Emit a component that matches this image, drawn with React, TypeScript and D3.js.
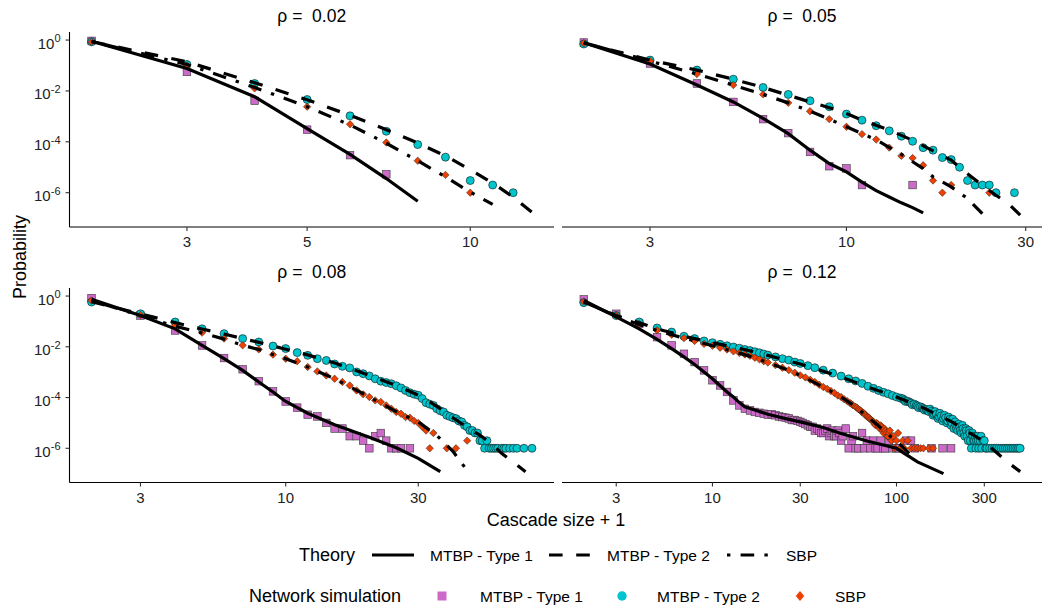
import React, { useEffect, useRef } from "react";
import * as d3 from "d3";

// Cascade size distributions, theory vs network simulation, one facet per rho

type Pt = [number, number];

const rhoValues = ["0.02", "0.05", "0.08", "0.12"];
const yTickExponents = [0, -2, -4, -6];
const xTicks02 = [3, 5, 10];
const xTicks05 = [3, 10, 30];
const xTicks08 = [3, 10, 30];
const xTicks12 = [3, 10, 30, 100, 300];

// rho = 0.02
const t1Line02: Pt[] = [[2, 0.9], [3, 0.076], [4, 0.0059], [5, 3.3e-4], [6, 3.2e-5], [7, 3.6e-6], [8, 4.6e-7]];
const t2Line02: Pt[] = [[2, 0.88], [3, 0.14], [4, 0.021], [5, 0.0045], [6, 0.0011], [7, 3.0e-4], [8, 9e-5], [9, 2.8e-5], [10, 8e-6], [11, 2.4e-6], [12, 6.8e-7], [13, 1.7e-7]];
const sbpLine02: Pt[] = [[2, 0.88], [3, 0.11], [4, 0.0137], [5, 0.0024], [6, 4.6e-4], [7, 8.8e-5], [8, 1.8e-5], [9, 4.2e-6], [10, 1.05e-6], [11, 3.5e-7]];
const t1Pts02: Pt[] = [[2, 0.93], [3, 0.056], [4, 0.0041], [5, 3.0e-4], [6, 3.0e-5], [7, 5.3e-6]];
const t2Pts02: Pt[] = [[2, 0.85], [3, 0.11], [4, 0.0196], [5, 0.0046], [6, 0.00105], [7, 2.6e-4], [8, 7.8e-5], [9, 2.5e-5], [10, 3e-6], [11, 2e-6], [12, 1e-6]];
const sbpPts02: Pt[] = [[2, 0.85], [3, 0.1], [4, 0.0126], [5, 0.0024], [6, 4.9e-4], [7, 9.4e-5], [8, 1.8e-5], [9, 5e-6], [10, 1e-6]];

// rho = 0.05
const t1Line05: Pt[] = [[2, 0.78], [3, 0.114], [4, 0.017], [5, 0.0037], [6, 8.3e-4], [7, 2.1e-4], [8, 4.7e-5], [9, 1.4e-5], [10, 6.6e-6], [11, 2.6e-6], [12, 1.2e-6], [13, 6.8e-7], [14, 4e-7], [15, 2.6e-7], [16, 1.6e-7]];
const t2Line05: Pt[] = [[2, 0.78], [3, 0.163], [4, 0.066], [5, 0.029], [6, 0.0137], [7, 0.0068], [8, 0.0037], [9, 0.0022], [10, 0.0013], [11, 7.1e-4], [13, 2.9e-4], [15, 1.15e-4], [17, 4.4e-5], [19, 1.9e-5], [21, 5.6e-6], [23, 1.95e-6], [25, 7.9e-7], [27, 3.7e-7], [29, 1.3e-7]];
const sbpLine05: Pt[] = [[2, 0.78], [3, 0.15], [4, 0.046], [5, 0.017], [6, 0.0073], [7, 0.0034], [8, 0.0016], [9, 7.8e-4], [10, 3.9e-4], [12, 1.2e-4], [14, 3.2e-5], [16, 8.9e-6], [17, 4.2e-6], [19, 1.7e-6], [21, 5.9e-7], [23, 1.5e-7]];
const t1Pts05: Pt[] = [[2, 0.8], [3, 0.12], [4, 0.0196], [5, 0.0037], [6, 7.8e-4], [7, 2.2e-4], [8, 4e-5], [9, 1.1e-5], [10, 9e-6], [11, 2e-6], [15, 2e-6]];
const t2Pts05: Pt[] = [[2, 0.7], [3, 0.163], [4, 0.066], [5, 0.029], [6, 0.0137], [7, 0.0073], [8, 0.0041], [9, 0.0024], [10, 0.00123], [11, 7.1e-4], [12, 4.3e-4], [13, 2.7e-4], [14, 1.66e-4], [15, 1.05e-4], [16, 5.9e-5], [17, 4.7e-5], [18, 2.4e-5], [19, 2.0e-5], [20, 1.0e-5], [21, 3e-6], [22, 2e-6], [23, 2e-6], [24, 2e-6], [25, 1e-6], [28, 1e-6]];
const sbpPts05: Pt[] = [[2, 0.75], [3, 0.15], [4, 0.046], [5, 0.017], [6, 0.0073], [7, 0.0034], [8, 0.0016], [9, 7.8e-4], [10, 3.9e-4], [11, 2.0e-4], [12, 1.23e-4], [13, 5.9e-5], [14, 2.8e-5], [15, 2.3e-5], [16, 1.2e-5], [17, 3e-6], [18, 1e-6], [19, 2e-6], [24, 1e-6]];

// rho = 0.08
const t1Line08: Pt[] = [[2, 0.74], [3, 0.17], [4, 0.051], [5, 0.0113], [6, 0.0034], [7, 0.00118], [8, 4.1e-4], [9, 1.66e-4], [10, 7.0e-5], [12, 2.4e-5], [15, 8.5e-6], [20, 2.7e-6], [25, 1.05e-6], [30, 4.0e-7], [36, 1.2e-7]];
const t2Line08: Pt[] = [[2, 0.6], [3, 0.2], [4, 0.09], [5, 0.05], [6, 0.032], [7, 0.021], [8, 0.015], [9, 0.0107], [10, 0.008], [12, 0.0048], [15, 0.0023], [20, 7.5e-4], [25, 3.0e-4], [30, 1.25e-4], [35, 4.5e-5], [40, 1.6e-5], [45, 6.7e-6], [50, 3.3e-6], [55, 1.5e-6], [60, 6.2e-7], [66, 2.8e-7], [73, 1.2e-7]];
const sbpLine08: Pt[] = [[2, 0.67], [3, 0.17], [4, 0.065], [5, 0.035], [6, 0.02], [7, 0.0115], [8, 0.0078], [9, 0.005], [10, 0.0034], [12, 0.0016], [15, 5.5e-4], [20, 1.05e-4], [25, 2.8e-5], [30, 1.1e-5], [35, 3.2e-6], [40, 7.6e-7], [44, 1.85e-7]];
const t1Pts08: Pt[] = [[2, 0.83], [3, 0.17], [4, 0.044], [5, 0.0113], [6, 0.0036], [7, 0.0013], [8, 4.4e-4], [9, 1.75e-4], [10, 7.0e-5], [11, 4.0e-5], [12, 2.1e-5], [13, 1.8e-5], [14, 1.0e-5], [15, 6e-6], [16, 6e-6], [17, 3e-6], [18, 3e-6], [19, 2e-6], [20, 1e-6], [21, 3e-6], [22, 4e-6], [23, 2e-6], [24, 1e-6], [25, 1e-6], [26, 1e-6], [28, 1e-6]];
const t2Pts08: Pt[] = [[2, 0.58], [3, 0.2], [4, 0.095], [5, 0.051], [6, 0.033], [7, 0.021], [8, 0.0155], [9, 0.0107], [10, 0.0085], [11, 0.0059], [12, 0.0046], [13, 0.0034], [14, 0.0029], [15, 0.0021], [16, 0.0017], [17, 0.00147], [18, 0.00102], [19, 8.7e-4], [20, 7.1e-4], [21, 5.5e-4], [22, 4.4e-4], [23, 3.9e-4], [24, 3.5e-4], [25, 2.9e-4], [26, 2.4e-4], [27, 1.9e-4], [28, 1.55e-4], [29, 1.35e-4], [30, 1.23e-4], [31, 9.1e-5], [32, 6.3e-5], [33, 5.5e-5], [34, 4.9e-5], [35, 3.6e-5], [36, 3.0e-5], [37, 2.7e-5], [38, 2.0e-5], [39, 1.8e-5], [40, 1.6e-5], [41, 1.48e-5], [42, 1.2e-5], [43, 1.1e-5], [44, 8e-6], [45, 7e-6], [46, 5e-6], [47, 5e-6], [48, 4e-6], [49, 4e-6], [50, 2e-6], [51, 2e-6], [52, 1e-6], [53, 2e-6], [54, 1e-6], [55, 1e-6], [56, 1e-6], [57, 1e-6], [58, 1e-6], [60, 1e-6], [61, 1e-6], [62, 1e-6], [64, 1e-6], [66, 1e-6], [68, 1e-6], [72, 1e-6], [77, 1e-6]];
const sbpPts08: Pt[] = [[2, 0.67], [3, 0.18], [4, 0.07], [5, 0.036], [6, 0.021], [7, 0.0114], [8, 0.0079], [9, 0.0049], [10, 0.0034], [11, 0.0027], [12, 0.0016], [13, 0.00107], [14, 7.4e-4], [15, 5.5e-4], [16, 4.1e-4], [17, 3.0e-4], [18, 1.9e-4], [19, 1.34e-4], [20, 1.05e-4], [21, 7.7e-5], [22, 6.7e-5], [23, 4.9e-5], [24, 3.6e-5], [25, 2.7e-5], [26, 2.3e-5], [27, 1.7e-5], [28, 1.6e-5], [29, 1.2e-5], [30, 1.0e-5], [31, 7e-6], [32, 5e-6], [33, 1e-6], [34, 4e-6], [38, 1e-6], [41, 1e-6], [45, 2e-6]];

// rho = 0.12
const t1Line12: Pt[] = [[2, 0.67], [3, 0.15], [4, 0.051], [5, 0.0196], [6, 0.0085], [7, 0.004], [8, 0.002], [10, 5.5e-4], [12, 1.66e-4], [13, 1.05e-4], [14, 6.3e-5], [15, 4.3e-5], [17, 3.2e-5], [20, 2.2e-5], [25, 1.48e-5], [30, 1.1e-5], [40, 6.6e-6], [50, 3.8e-6], [70, 1.9e-6], [100, 1.0e-6], [130, 2.9e-7], [180, 1.0e-7]];
const t2Line12: Pt[] = [[2, 0.58], [3, 0.17], [4, 0.089], [5, 0.051], [6, 0.036], [7, 0.026], [8, 0.021], [10, 0.0145], [13, 0.0098], [17, 0.0063], [20, 0.0046], [30, 0.0021], [50, 6.5e-4], [70, 2.6e-4], [100, 1.05e-4], [140, 3.9e-5], [200, 1.1e-5], [300, 1.8e-6], [400, 2.9e-7], [470, 1.2e-7]];
const sbpLine12: Pt[] = [[2, 0.6], [3, 0.16], [4, 0.075], [5, 0.044], [6, 0.03], [7, 0.022], [8, 0.017], [10, 0.011], [13, 0.0066], [16, 0.0042], [20, 0.0024], [25, 0.0013], [30, 7.5e-4], [40, 2.6e-4], [50, 1.05e-4], [60, 4.3e-5], [70, 1.7e-5], [80, 7.5e-6], [90, 3.5e-6], [100, 1.9e-6], [110, 1.0e-6], [118, 6e-7]];
const t1Pts12: Pt[] = [[2, 0.74], [3, 0.2], [4, 0.081], [5, 0.024], [6, 0.0114], [7, 0.0053], [8, 0.0025], [9, 0.00118], [10, 4.8e-4], [11, 3.0e-4], [12, 1.66e-4], [13, 7.7e-5], [14, 4.9e-5], [15, 3.6e-5], [16, 3.1e-5], [17, 2.7e-5], [18, 2.5e-5], [19, 2.3e-5], [20, 2.1e-5], [21, 2.2e-5], [22, 2.0e-5], [23, 1.8e-5], [24, 1.7e-5], [25, 1.6e-5], [26, 1.5e-5], [27, 1.3e-5], [28, 1.3e-5], [29, 1.2e-5], [30, 1.1e-5], [31, 1.0e-5], [32, 9e-6], [33, 8e-6], [34, 7e-6], [35, 7e-6], [36, 5e-6], [37, 6e-6], [38, 5e-6], [39, 4e-6], [40, 4e-6], [41, 5e-6], [42, 6e-6], [43, 3e-6], [44, 4e-6], [45, 5e-6], [46, 3e-6], [47, 3e-6], [48, 5e-6], [49, 4e-6], [50, 2e-6], [51, 3e-6], [53, 6e-6], [55, 1e-6], [57, 2e-6], [58, 3e-6], [60, 1e-6], [62, 1e-6], [65, 4e-6], [67, 1e-6], [69, 2e-6], [72, 1e-6], [75, 2e-6], [77, 1e-6], [79, 1e-6], [82, 2e-6], [85, 1e-6], [87, 1e-6], [91, 2e-6], [95, 1e-6], [100, 1e-6], [104, 1e-6], [113, 2e-6], [120, 2e-6], [126, 1e-6], [155, 1e-6], [178, 1e-6], [198, 1e-6]];
const t2Pts12: Pt[] = [[2, 0.55], [3, 0.17], [4, 0.095], [5, 0.055], [6, 0.038], [7, 0.026], [8, 0.021], [9, 0.017], [10, 0.0145], [11, 0.0125], [12, 0.011], [13, 0.0098], [14, 0.0088], [15, 0.0078], [16, 0.0071], [17, 0.0064], [18, 0.0058], [19, 0.0052], [20, 0.0047], [22, 0.004], [24, 0.0034], [26, 0.003], [28, 0.0025], [30, 0.0022], [33, 0.0018], [36, 0.0015], [40, 0.0012], [45, 9.2e-4], [50, 7.0e-4], [55, 5.5e-4], [60, 4.5e-4], [65, 3.6e-4], [70, 2.8e-4], [75, 2.3e-4], [80, 1.9e-4], [85, 1.6e-4], [90, 1.4e-4], [95, 1.2e-4], [100, 1.05e-4], [105, 9.5e-5], [108, 9.0e-5], [110, 8.0e-5], [112, 7.0e-5], [115, 7.2e-5], [118, 6.5e-5], [120, 6.0e-5], [122, 5.2e-5], [125, 5.5e-5], [128, 5.0e-5], [130, 4.6e-5], [132, 4.0e-5], [135, 4.3e-5], [138, 4.0e-5], [140, 3.6e-5], [142, 3.2e-5], [145, 3.4e-5], [148, 3.0e-5], [150, 2.8e-5], [152, 3.5e-5], [155, 2.9e-5], [158, 2.0e-5], [160, 2.3e-5], [162, 2.8e-5], [165, 2.2e-5], [168, 1.5e-5], [170, 1.8e-5], [172, 2.4e-5], [175, 1.9e-5], [178, 1.2e-5], [180, 1.5e-5], [182, 2.0e-5], [185, 1.6e-5], [188, 1.0e-5], [190, 1.2e-5], [192, 1.7e-5], [195, 1.4e-5], [198, 8e-6], [200, 1.0e-5], [202, 1.4e-5], [205, 6e-6], [208, 1.1e-5], [210, 8e-6], [212, 6e-6], [215, 5e-6], [218, 9e-6], [220, 7e-6], [222, 5e-6], [225, 4e-6], [228, 8e-6], [230, 6e-6], [232, 4e-6], [235, 3e-6], [238, 6e-6], [240, 5e-6], [242, 3e-6], [245, 2e-6], [248, 5e-6], [250, 4e-6], [252, 2e-6], [255, 1e-6], [258, 4e-6], [260, 3e-6], [262, 2e-6], [265, 2e-6], [268, 3e-6], [270, 1e-6], [272, 2e-6], [275, 3e-6], [278, 2e-6], [280, 1e-6], [285, 2e-6], [288, 3e-6], [290, 1e-6], [295, 2e-6], [300, 2e-6], [305, 1e-6], [310, 1e-6], [320, 1e-6], [330, 1e-6], [340, 1e-6], [350, 1e-6], [360, 1e-6], [370, 1e-6], [380, 1e-6], [390, 1e-6], [400, 1e-6], [410, 1e-6], [420, 1e-6], [430, 1e-6], [440, 1e-6], [450, 1e-6], [460, 1e-6], [470, 1e-6]];
const sbpPts12: Pt[] = [[2, 0.6], [3, 0.17], [4, 0.08], [5, 0.045], [6, 0.03], [7, 0.022], [8, 0.017], [9, 0.013], [10, 0.011], [11, 0.0092], [12, 0.0078], [13, 0.0066], [14, 0.0057], [15, 0.005], [16, 0.0044], [17, 0.0037], [18, 0.0032], [19, 0.0027], [20, 0.0024], [22, 0.0019], [24, 0.0015], [26, 0.0012], [28, 9.5e-4], [30, 7.5e-4], [32, 6.2e-4], [34, 5.0e-4], [36, 4.1e-4], [38, 3.2e-4], [40, 2.6e-4], [42, 2.2e-4], [44, 1.8e-4], [46, 1.5e-4], [48, 1.2e-4], [50, 1.05e-4], [52, 8.5e-5], [54, 7.2e-5], [56, 6.0e-5], [57, 5.5e-5], [58, 5.0e-5], [60, 4.3e-5], [61, 4.0e-5], [62, 3.5e-5], [63, 3.3e-5], [64, 3.0e-5], [65, 2.6e-5], [66, 2.5e-5], [67, 2.3e-5], [68, 2.0e-5], [69, 1.8e-5], [70, 1.7e-5], [71, 1.6e-5], [72, 1.4e-5], [73, 1.3e-5], [74, 1.2e-5], [75, 1.1e-5], [76, 9e-6], [77, 8e-6], [78, 1.0e-5], [79, 9e-6], [80, 7e-6], [81, 6e-6], [82, 8e-6], [83, 7e-6], [84, 5e-6], [85, 4e-6], [86, 6e-6], [87, 5e-6], [88, 4e-6], [89, 3e-6], [90, 3e-6], [91, 4e-6], [92, 5e-6], [94, 2e-6], [96, 3e-6], [98, 1e-6], [100, 2e-6], [102, 4e-6], [105, 1e-6], [108, 2e-6], [110, 1e-6], [115, 2e-6], [120, 1e-6], [125, 1e-6], [130, 1e-6], [135, 1e-6], [140, 1e-6], [150, 1e-6], [158, 1e-6]];

const theoryLabels = ["MTBP - Type 1", "MTBP - Type 2", "SBP"];
const simLabels = ["MTBP - Type 1", "MTBP - Type 2", "SBP"];

const PINK = "#CD69C9";
const CYAN = "#00C5CD";
const ORANGE = "#EE4000";
const FONT = "'Liberation Sans', Arial, sans-serif";
const LW = 3.2;
const DASHED = "13.6,13.6";
const DOTDASH = "3.4,10.2,13.6,10.2";

const panels = [
  { rho: rhoValues[0], xTicks: xTicks02, lines: [t1Line02, t2Line02, sbpLine02], pts: [t1Pts02, t2Pts02, sbpPts02] },
  { rho: rhoValues[1], xTicks: xTicks05, lines: [t1Line05, t2Line05, sbpLine05], pts: [t1Pts05, t2Pts05, sbpPts05] },
  { rho: rhoValues[2], xTicks: xTicks08, lines: [t1Line08, t2Line08, sbpLine08], pts: [t1Pts08, t2Pts08, sbpPts08] },
  { rho: rhoValues[3], xTicks: xTicks12, lines: [t1Line12, t2Line12, sbpLine12], pts: [t1Pts12, t2Pts12, sbpPts12] },
];

const expandLog = (vals: number[]): [number, number] => {
  const lo = Math.log10(d3.min(vals) as number);
  const hi = Math.log10(d3.max(vals) as number);
  const pad = (hi - lo) * 0.05;
  return [Math.pow(10, lo - pad), Math.pow(10, hi + pad)];
};

const App = () => {
  const svgRef = useRef<SVGSVGElement>(null);

  useEffect(() => {
    const svg = d3.select(svgRef.current);
    svg.selectAll("*").remove();

    const cols = [{ x0: 69.5, x1: 554 }, { x0: 562, x1: 1042 }];
    const rows = [{ y0: 32, y1: 227 }, { y0: 288, y1: 482.5 }];

    const allY: number[] = [];
    panels.forEach(p => [...p.lines, ...p.pts].forEach(s => s.forEach(d => allY.push(d[1]))));
    const yDomain = expandLog(allY);

    const dashes = [null, DASHED, DOTDASH];
    const fills = [PINK, CYAN, ORANGE];

    panels.forEach((p, i) => {
      const col = cols[i % 2];
      const row = rows[Math.floor(i / 2)];
      const allX: number[] = [];
      [...p.lines, ...p.pts].forEach(s => s.forEach(d => allX.push(d[0])));

      const x = d3.scaleLog().domain(expandLog(allX)).range([col.x0, col.x1]);
      const y = d3.scaleLog().domain(yDomain).range([row.y1, row.y0]);
      const g = svg.append("g");

      // simulated points
      p.pts.forEach((s, k) => {
        const pg = g.append("g");
        s.forEach(d => {
          const cx = x(d[0]);
          const cy = y(d[1]);
          if (k === 0) {
            pg.append("rect").attr("x", cx - 3.8).attr("y", cy - 3.8).attr("width", 7.6).attr("height", 7.6)
              .attr("fill", PINK).attr("stroke", "#3a3a3a").attr("stroke-width", 0.6);
          } else if (k === 1) {
            pg.append("circle").attr("cx", cx).attr("cy", cy).attr("r", 4)
              .attr("fill", CYAN).attr("stroke", "#111").attr("stroke-width", 0.6);
          } else {
            const r = 3.7;
            pg.append("path").attr("d", `M${cx},${cy - r}L${cx + r},${cy}L${cx},${cy + r}L${cx - r},${cy}Z`)
              .attr("fill", ORANGE).attr("stroke", "#222").attr("stroke-width", 0.5);
          }
        });
      });

      // theory lines
      const line = d3.line<Pt>().x(d => x(d[0])).y(d => y(d[1]));
      p.lines.forEach((s, k) => {
        g.append("path").attr("d", line(s)).attr("fill", "none").attr("stroke", "black")
          .attr("stroke-width", LW).attr("stroke-dasharray", dashes[k]);
      });

      // strip title
      g.append("text").attr("x", (col.x0 + col.x1) / 2).attr("y", row.y0 - 10)
        .attr("text-anchor", "middle").attr("font-family", FONT).attr("font-size", 17.5)
        .attr("fill", "black").style("white-space", "pre").text(`ρ =  ${p.rho}`);

      // x axis
      g.append("line").attr("x1", col.x0).attr("x2", col.x1).attr("y1", row.y1).attr("y2", row.y1)
        .attr("stroke", "black").attr("stroke-width", 1.1);
      p.xTicks.forEach(t => {
        g.append("line").attr("x1", x(t)).attr("x2", x(t)).attr("y1", row.y1).attr("y2", row.y1 + 4)
          .attr("stroke", "#333").attr("stroke-width", 1.1);
        g.append("text").attr("x", x(t)).attr("y", row.y1 + 20).attr("text-anchor", "middle")
          .attr("font-family", FONT).attr("font-size", 15).attr("fill", "#222").text(t);
      });

      // y axis on left column only
      if (i % 2 === 0) {
        g.append("line").attr("x1", col.x0).attr("x2", col.x0).attr("y1", row.y0).attr("y2", row.y1)
          .attr("stroke", "black").attr("stroke-width", 1.1);
        yTickExponents.forEach(e => {
          const ty = y(Math.pow(10, e));
          g.append("line").attr("x1", col.x0 - 4).attr("x2", col.x0).attr("y1", ty).attr("y2", ty)
            .attr("stroke", "#333").attr("stroke-width", 1.1);
          const lbl = g.append("text").attr("x", col.x0 - 9).attr("y", ty + 8.5).attr("text-anchor", "end")
            .attr("font-family", FONT).attr("font-size", 15).attr("fill", "#222");
          lbl.append("tspan").text("10");
          lbl.append("tspan").attr("dy", -6.5).attr("font-size", 11).text(String(e));
        });
      }
    });

    // axis titles
    svg.append("text").attr("x", 556).attr("y", 525.5).attr("text-anchor", "middle")
      .attr("font-family", FONT).attr("font-size", 18).attr("fill", "black").text("Cascade size + 1");
    svg.append("text").attr("transform", "translate(26,257) rotate(-90)").attr("text-anchor", "middle")
      .attr("font-family", FONT).attr("font-size", 18).attr("fill", "black").text("Probability");

    // legend: theory
    const ly1 = 555;
    svg.append("text").attr("x", 299).attr("y", ly1 + 6.4).attr("font-family", FONT).attr("font-size", 18)
      .attr("fill", "black").text("Theory");
    const keyX = [372, 549, 727];
    const lblX = [430, 607, 786];
    theoryLabels.forEach((l, k) => {
      svg.append("line").attr("x1", keyX[k]).attr("x2", keyX[k] + 42).attr("y1", ly1).attr("y2", ly1)
        .attr("stroke", "black").attr("stroke-width", LW).attr("stroke-dasharray", dashes[k]);
      svg.append("text").attr("x", lblX[k]).attr("y", ly1 + 5.5).attr("font-family", FONT)
        .attr("font-size", 15.5).attr("fill", "black").text(l);
    });

    // legend: simulation
    const ly2 = 596;
    svg.append("text").attr("x", 249).attr("y", ly2 + 6.4).attr("font-family", FONT).attr("font-size", 18)
      .attr("fill", "black").text("Network simulation");
    const symX = [442, 622, 800];
    const simLblX = [480, 657, 835];
    simLabels.forEach((l, k) => {
      const cx = symX[k];
      if (k === 0) {
        svg.append("rect").attr("x", cx - 4.5).attr("y", ly2 - 4.5).attr("width", 9).attr("height", 9).attr("fill", fills[k]);
      } else if (k === 1) {
        svg.append("circle").attr("cx", cx).attr("cy", ly2).attr("r", 4.7).attr("fill", fills[k]);
      } else {
        const r = 5;
        svg.append("path").attr("d", `M${cx},${ly2 - r}L${cx + r * 0.85},${ly2}L${cx},${ly2 + r}L${cx - r * 0.85},${ly2}Z`).attr("fill", fills[k]);
      }
      svg.append("text").attr("x", simLblX[k]).attr("y", ly2 + 5.5).attr("font-family", FONT)
        .attr("font-size", 15.5).attr("fill", "black").text(l);
    });
  }, []);

  return (
    <svg ref={svgRef} width={1043} height={607}
      style={{ position: "absolute", left: 0, top: 0, background: "white" }} />
  );
};

export default App;
